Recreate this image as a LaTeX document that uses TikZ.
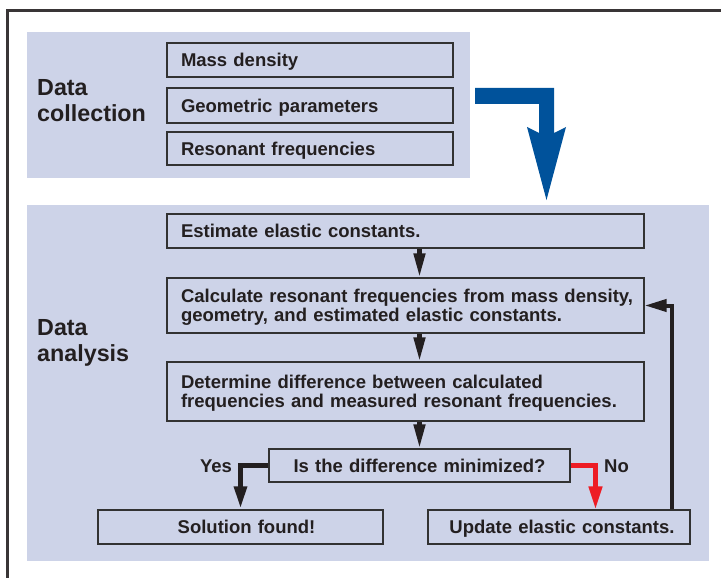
\documentclass[tikz,border=0pt]{standalone}
\usepackage{fontspec}
\setmainfont{Liberation Sans}
\usetikzlibrary{arrows.meta}

\definecolor{panelfill}{RGB}{205,211,232}
\definecolor{boxline}{RGB}{50,50,50}
\definecolor{inkc}{RGB}{35,31,32}
\definecolor{flowblue}{RGB}{0,82,155}
\definecolor{flowred}{RGB}{237,28,36}

\begin{document}
\begin{tikzpicture}[x=1pt,y=-1pt,
  panel/.style={rectangle, fill=panelfill, draw=none, inner sep=0pt},
  stepbox/.style={rectangle, draw=boxline, line width=1.3pt, fill=panelfill,
    inner xsep=14pt, inner ysep=0pt, text=inkc,
    font=\bfseries\fontsize{18.5}{19.5}\selectfont,
    text height=13.2pt, text depth=0pt},
  twoline/.style={text depth=19.5pt},
  sectlbl/.style={inner sep=0pt, text=inkc, text width=140pt, align=left,
    font=\bfseries\fontsize{23.3}{26}\selectfont},
  answer/.style={inner sep=0pt, text=inkc,
    font=\bfseries\fontsize{18.5}{19.5}\selectfont},
  darr/.style={draw=inkc, line width=4.5pt, -{Triangle[length=24pt,width=11pt]}},
  yesarr/.style={draw=inkc, line width=5.5pt, -{Triangle[length=23pt,width=12pt]}},
  noarr/.style={draw=flowred, line width=4.5pt, -{Triangle[length=23pt,width=13pt]}},
  backarr/.style={draw=inkc, line width=4pt, -{Triangle[length=22pt,width=12pt]}},
  frameline/.style={draw=inkc!90, line width=3pt},
]
\useasboundingbox (0,0) rectangle (721,578);

% outer frame (open towards right and bottom)
\draw[frameline] (7.5,578) -- (7.5,11) -- (721,11);

% background panels
\node[panel, minimum width=443, minimum height=146] (collect) at (248.5,105) {};
\node[panel, minimum width=682, minimum height=356] (analyse) at (368,383) {};

% section titles
\node[sectlbl, anchor=base west] (collecttitle) at (37,95.7) {Data\\collection};
\node[sectlbl, anchor=base west] (analysetitle) at (37,335) {Data\\analysis};

% data collection inputs
\node[stepbox, minimum width=286, minimum height=34, text width=258, align=left] (mass) at (310,60) {Mass density};
\node[stepbox, minimum width=286, minimum height=35, text width=258, align=left] (geom) at (310,105.5) {Geometric parameters};
\node[stepbox, minimum width=286, minimum height=33, text width=258, align=left] (reso) at (310,148.5) {Resonant frequencies};

% hand-over arrow from collection to analysis
\fill[flowblue] (475,88) -- (554,88) -- (554,133) -- (566,127) -- (546.5,200)
  -- (527,127) -- (539,133) -- (539,104) -- (475,104) -- cycle;

% analysis steps
\node[stepbox, minimum width=477, minimum height=34, text width=449, align=left] (est) at (405.5,231) {Estimate elastic constants.};
\node[stepbox, twoline, minimum width=477, minimum height=55, text width=449, align=left] (calc) at (405.5,305.5)
  {\mbox{Calculate resonant frequencies from mass density,}\\geometry, and estimated elastic constants.};
\node[stepbox, twoline, minimum width=477, minimum height=59, text width=449, align=left] (det) at (405.5,391.5)
  {Determine difference between calculated\\\mbox{frequencies and measured resonant frequencies.}};
\node[stepbox, minimum width=301, minimum height=33, text width=273, align=center] (isdiff) at (419.5,465.5) {Is the difference minimized?};
\node[stepbox, minimum width=285, minimum height=34, text width=257, align=center] (sol) at (240.5,527) {\hspace*{12pt}Solution found!};
\node[stepbox, minimum width=262, minimum height=34, text width=234, align=center] (upd) at (559,527) {\hspace*{6pt}Update elastic constants.};

% branch labels
\node[answer, anchor=base] (yes) at (216,472) {Yes};
\node[answer, anchor=base] (no) at (616.5,472) {No};

% connectors: the main flow runs down one column
\draw[darr] (est.south -| isdiff.north) -- (calc.north -| isdiff.north);
\draw[darr] (calc.south -| isdiff.north) -- (det.north -| isdiff.north);
\draw[darr] (det.south -| isdiff.north) -- (isdiff.north);
\draw[yesarr] (isdiff.west) -| (sol.north);
\coordinate (nocol) at (595.5,0);
\draw[noarr] (isdiff.east) -| (upd.north -| nocol);
\coordinate (backcol) at (672,0);
\draw[backarr] (upd.north -| backcol) |- (calc.east);
\end{tikzpicture}
\end{document}
